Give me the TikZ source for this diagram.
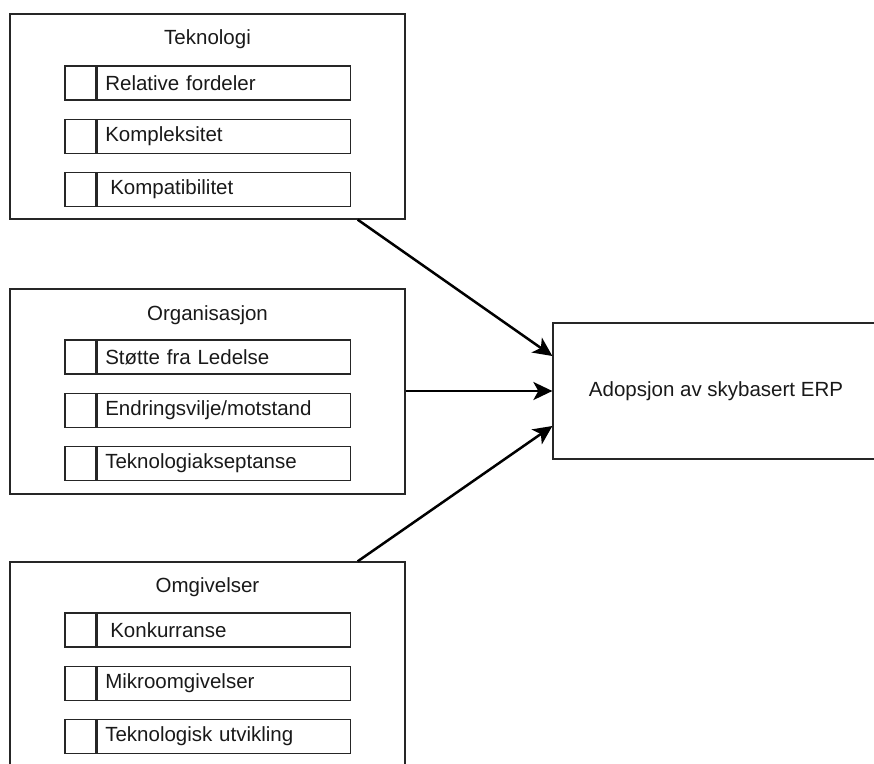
\documentclass[tikz,border=0pt]{standalone}
\usepackage{fontspec}
\setmainfont{Liberation Sans}
\usetikzlibrary{positioning,arrows.meta}
\begin{document}
\begin{tikzpicture}[x=1pt, y=-1pt,
  every node/.style={font=\fontsize{20.5}{24}\selectfont, text=black!90},
  group/.style={draw=black!85, line width=1.3pt, minimum width=395pt, minimum height=205pt, inner sep=0pt},
  grouptitle/.style={inner sep=0pt},
  cell/.style={draw=black!85, line width=1.3pt, minimum width=31pt, minimum height=34pt, inner sep=0pt},
  factor/.style={draw=black!85, line width=1.3pt, minimum height=34pt, text width=237pt, inner xsep=8pt, inner ysep=0pt, align=left},
  influence/.style={draw=black, line width=2.5pt, -{Stealth[length=19pt, width=18pt, inset=5pt]}}]
  \useasboundingbox (0,0) rectangle (874,763);
  \clip (0,0) rectangle (874,763);
  % Teknologi
  \node[group] (tek) at (207.5,116.5) {};
  \node[grouptitle] (tekT) at ([yshift=-26pt]tek.north) {Teknologi};
  \node[cell, anchor=north west] (tek1c) at ([xshift=55pt, yshift=-52pt]tek.north west) {};
  \node[factor, right=0pt of tek1c] (tek1) {Relative fordeler};
  \node[cell, below=18pt of tek1c] (tek2c) {};
  \node[factor, right=0pt of tek2c] (tek2) {Kompleksitet};
  \node[cell, below=18pt of tek2c] (tek3c) {};
  \node[factor, right=0pt of tek3c] (tek3) {\hspace{5pt}Kompatibilitet};
  % Organisasjon
  \node[group] (org) at (207.5,391.5) {};
  \node[grouptitle] (orgT) at ([yshift=-27pt]org.north) {Organisasjon};
  \node[cell, anchor=north west] (org1c) at ([xshift=55pt, yshift=-51pt]org.north west) {};
  \node[factor, right=0pt of org1c] (org1) {Støtte fra Ledelse};
  \node[cell, below=18pt of org1c] (org2c) {};
  \node[factor, right=0pt of org2c] (org2) {Endringsvilje/motstand};
  \node[cell, below=18pt of org2c] (org3c) {};
  \node[factor, right=0pt of org3c] (org3) {Teknologiakseptanse};
  % Omgivelser
  \node[group] (omg) at (207.5,664.5) {};
  \node[grouptitle] (omgT) at ([yshift=-26pt]omg.north) {Omgivelser};
  \node[cell, anchor=north west] (omg1c) at ([xshift=55pt, yshift=-51pt]omg.north west) {};
  \node[factor, right=0pt of omg1c] (omg1) {\hspace{5pt}Konkurranse};
  \node[cell, below=18pt of omg1c] (omg2c) {};
  \node[factor, right=0pt of omg2c] (omg2) {Mikroomgivelser};
  \node[cell, below=18pt of omg2c] (omg3c) {};
  \node[factor, right=0pt of omg3c] (omg3) {Teknologisk utvikling};
  % Adopsjon
  \node[draw=black!85, line width=1.3pt, minimum width=326pt, minimum height=136pt] (erp) at (716,391) {Adopsjon av skybasert ERP};
  % arrows
  \draw[influence] ([xshift=-48pt]tek.south east) -- ([yshift=35pt]erp.west);
  \draw[influence] (org.east |- erp.west) -- (erp.west);
  \draw[influence] ([xshift=-48pt]omg.north east) -- ([yshift=-35pt]erp.west);
\end{tikzpicture}
\end{document}
